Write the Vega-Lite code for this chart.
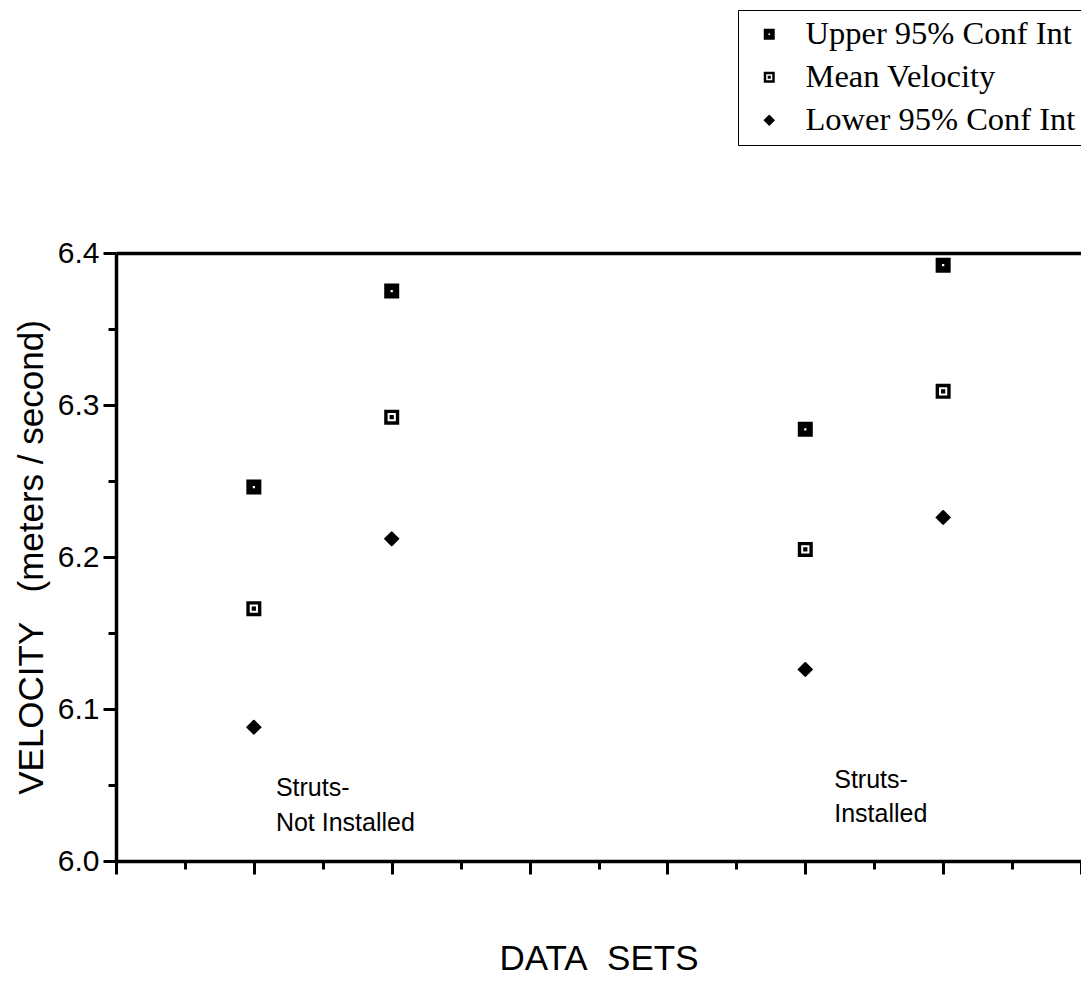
{
  "$schema": "https://vega.github.io/schema/vega-lite/v6.json",
  "width": 965,
  "height": 608,
  "autosize": {"type": "none"},
  "padding": {"left": 116, "top": 253, "right": 0, "bottom": 120},
  "background": "white",
  "config": {
    "view": {"stroke": null},
    "axis": {
      "domainColor": "black",
      "domainWidth": 3.5,
      "tickColor": "black",
      "tickWidth": 3,
      "grid": false,
      "labelFont": "Liberation Sans",
      "labelFontSize": 30,
      "labelColor": "black",
      "titleFont": "Liberation Sans",
      "titleFontSize": 35,
      "titleFontWeight": "normal",
      "titleColor": "black"
    }
  },
  "datasets": {
    "points": [
      {"set": 1, "series": "Upper 95% Conf Int", "velocity": 6.246},
      {"set": 1, "series": "Mean Velocity", "velocity": 6.166},
      {"set": 1, "series": "Lower 95% Conf Int", "velocity": 6.088},
      {"set": 2, "series": "Upper 95% Conf Int", "velocity": 6.375},
      {"set": 2, "series": "Mean Velocity", "velocity": 6.292},
      {"set": 2, "series": "Lower 95% Conf Int", "velocity": 6.212},
      {"set": 5, "series": "Upper 95% Conf Int", "velocity": 6.284},
      {"set": 5, "series": "Mean Velocity", "velocity": 6.205},
      {"set": 5, "series": "Lower 95% Conf Int", "velocity": 6.126},
      {"set": 6, "series": "Upper 95% Conf Int", "velocity": 6.392},
      {"set": 6, "series": "Mean Velocity", "velocity": 6.309},
      {"set": 6, "series": "Lower 95% Conf Int", "velocity": 6.226}
    ],
    "notes": [
      {"x": 1.16, "y": 6.048, "label": "Struts-"},
      {"x": 1.16, "y": 6.025, "label": "Not Installed"},
      {"x": 5.21, "y": 6.0536, "label": "Struts-"},
      {"x": 5.21, "y": 6.031, "label": "Installed"}
    ]
  },
  "layer": [
    {
      "data": {"name": "points"},
      "mark": {"type": "point", "filled": true, "color": "black", "opacity": 1, "size": 225, "strokeWidth": 0},
      "encoding": {
        "x": {
          "field": "set",
          "type": "quantitative",
          "scale": {"domain": [0, 7], "nice": false, "zero": false},
          "title": "DATA\u00a0\u00a0SETS",
          "axis": {
            "orient": "bottom",
            "values": [0, 0.5, 1, 1.5, 2, 2.5, 3, 3.5, 4, 4.5, 5, 5.5, 6, 6.5, 7],
            "labels": false,
            "tickSize": {"condition": {"test": "datum.value % 1 === 0", "value": 13}, "value": 8},
            "titlePadding": 66
          }
        },
        "y": {
          "field": "velocity",
          "type": "quantitative",
          "scale": {"domain": [6.0, 6.4], "nice": false, "zero": false},
          "title": "VELOCITY\u00a0\u00a0\u00a0(meters\u00a0/\u00a0second)",
          "axis": {
            "orient": "left",
            "values": [6.0, 6.05, 6.1, 6.15, 6.2, 6.25, 6.3, 6.35, 6.4],
            "labelExpr": "abs(datum.value*10 - round(datum.value*10)) < 0.001 ? format(datum.value, '.1f') : ''",
            "labelOverlap": false,
            "tickSize": {"condition": {"test": "abs(datum.value*10 - round(datum.value*10)) < 0.001", "value": 13}, "value": 8},
            "labelPadding": 4,
            "titlePadding": 8
          }
        },
        "shape": {
          "field": "series",
          "type": "nominal",
          "scale": {
            "domain": ["Upper 95% Conf Int", "Mean Velocity", "Lower 95% Conf Int"],
            "range": [
              "M-1,-1H1V1H-1Z M-0.15,-0.15V0.15H0.15V-0.15Z",
              "M-1,-1H1V1H-1Z M-0.55,-0.55V0.55H0.55V-0.55Z M-0.28,-0.28H0.28V0.28H-0.28Z",
              "M-1.05,0L-0.1,-0.95Q0,-1.05,0.1,-0.95L1.05,0L0.1,0.95Q0,1.05,-0.1,0.95Z"
            ]
          },
          "legend": {
            "orient": "none",
            "legendX": 622,
            "legendY": -243,
            "title": null,
            "strokeColor": "black",
            "fillColor": "white",
            "padding": 8,
            "labelFont": "Liberation Serif",
            "labelFontSize": 32.5,
            "labelColor": "black",
            "labelLimit": 500,
            "symbolSize": 121,
            "symbolFillColor": "black",
            "symbolStrokeWidth": 0,
            "symbolOffset": 7,
            "labelOffset": 20,
            "rowPadding": 10
          }
        }
      }
    },
    {
      "data": {"name": "notes"},
      "mark": {"type": "text", "align": "left", "baseline": "middle", "font": "Liberation Sans", "fontSize": 25, "color": "black"},
      "encoding": {
        "x": {
          "field": "x",
          "type": "quantitative",
          "title": null,
          "axis": {"orient": "top", "ticks": false, "labels": false, "domainWidth": 3.5, "domainColor": "black"}
        },
        "y": {"field": "y", "type": "quantitative", "axis": null},
        "text": {"field": "label"}
      }
    }
  ],
  "resolve": {"axis": {"x": "independent", "y": "independent"}}
}
